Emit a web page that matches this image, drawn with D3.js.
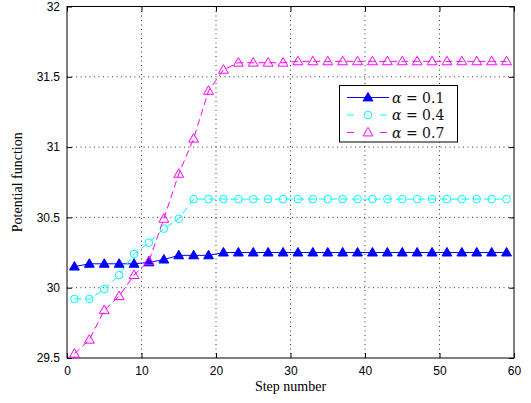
<!DOCTYPE html>
<html>
<head>
<meta charset="utf-8">
<script src="https://cdn.jsdelivr.net/npm/d3@7"></script>
<style>
  body { margin: 0; background: #fff; }
  svg { display: block; }
</style>
</head>
<body>
<svg id="chart" width="531" height="403"></svg>
<script>
// step numbers (odd steps only)
var steps = [1,3,5,7,9,11,13,15,17,19,21,23,25,27,29,31,33,35,37,39,41,43,45,47,49,51,53,55,57,59];

var alpha01 = [30.15,30.17,30.17,30.17,30.17,30.18,30.20,30.23,30.23,30.23,
  30.25,30.25,30.25,30.25,30.25,30.25,30.25,30.25,30.25,30.25,
  30.25,30.25,30.25,30.25,30.25,30.25,30.25,30.25,30.25,30.25];
var alpha04 = [29.92,29.92,29.99,30.09,30.24,30.32,30.42,30.49,30.63,30.63,
  30.63,30.63,30.63,30.63,30.63,30.63,30.63,30.63,30.63,30.63,
  30.63,30.63,30.63,30.63,30.63,30.63,30.63,30.63,30.63,30.63];
var alpha07 = [29.53,29.63,29.84,29.94,30.09,30.19,30.49,30.81,31.06,31.40,
  31.55,31.60,31.60,31.60,31.60,31.61,31.61,31.61,31.61,31.61,
  31.61,31.61,31.61,31.61,31.61,31.61,31.61,31.61,31.61,31.61];

var xTicks = [0,10,20,30,40,50,60];
var yTicks = [29.5,30,30.5,31,31.5,32];
var seriesNames = ["0.1","0.4","0.7"];

var svg = d3.select("#chart");
// plot box (don't call it "top", that's window.top)
var pL = 67, pR = 514, pT = 6.5, pB = 358;

var x = d3.scaleLinear().domain([0,60]).range([pL,pR]);
var y = d3.scaleLinear().domain([29.5,32]).range([pB,pT]);

// grid
var grid = svg.append("g");
grid.selectAll("line.gx").data(xTicks.slice(1,-1)).enter().append("line")
  .attr("x1", d => x(d)).attr("x2", d => x(d))
  .attr("y1", pT).attr("y2", pB)
  .attr("stroke","#000").attr("stroke-width",0.8).attr("stroke-dasharray","1,3.5");
grid.selectAll("line.gy").data(yTicks.slice(1,-1)).enter().append("line")
  .attr("y1", d => y(d)).attr("y2", d => y(d))
  .attr("x1", pL).attr("x2", pR)
  .attr("stroke","#000").attr("stroke-width",0.8).attr("stroke-dasharray","1,3.5");

// axes (ticks point inward like matlab)
var fontTicks = "'Liberation Sans', Arial, sans-serif";
var xAxis = d3.axisBottom(x).tickValues(xTicks).tickSize(-5).tickPadding(8).tickFormat(d3.format("d"));
var xAxisTop = d3.axisTop(x).tickValues(xTicks).tickSize(-5).tickFormat("");
var yAxis = d3.axisLeft(y).tickValues(yTicks).tickSize(-5).tickPadding(7).tickFormat(d => String(d));
var yAxisRight = d3.axisRight(y).tickValues(yTicks).tickSize(-5).tickFormat("");

function styleAxis(g){
  g.select(".domain").remove();
  g.selectAll("line").attr("stroke","#000");
  g.selectAll("text").attr("fill","#000").style("font-family",fontTicks).style("font-size","12px");
}
svg.append("g").attr("transform","translate(0,"+pB+")").call(xAxis).call(styleAxis);
svg.append("g").attr("transform","translate(0,"+pT+")").call(xAxisTop).call(styleAxis);
svg.append("g").attr("transform","translate("+pL+",0)").call(yAxis).call(styleAxis);
svg.append("g").attr("transform","translate("+pR+",0)").call(yAxisRight).call(styleAxis);

svg.append("rect").attr("x",pL).attr("y",pT).attr("width",pR-pL).attr("height",pB-pT)
  .attr("fill","none").attr("stroke","#000").attr("stroke-width",1);

// series
var tri = d3.symbol().type(d3.symbolTriangle).size(42);
var series = [
  {vals: alpha01, color:"#0000ff", dash:null, marker:"tri", fill:true},
  {vals: alpha04, color:"#00ffff", dash:"7,4", marker:"circle", fill:false},
  {vals: alpha07, color:"#ff00ff", dash:"7,4", marker:"tri", fill:false}
];
var line = d3.line().x(d => x(d[0])).y(d => y(d[1]));

function drawMarker(g, s, cx, cy){
  if(s.marker === "circle"){
    g.append("circle").attr("cx",cx).attr("cy",cy).attr("r",3.8)
      .attr("fill","none").attr("stroke",s.color).attr("stroke-width",1);
  } else {
    g.append("path").attr("d",tri).attr("transform","translate("+cx+","+(cy+0.6)+")")
      .attr("fill", s.fill ? s.color : "none").attr("stroke",s.color).attr("stroke-width",1);
  }
}

series.forEach(s => {
  var pts = steps.map((st,i) => [st, s.vals[i]]);
  var g = svg.append("g");
  g.append("path").attr("d", line(pts)).attr("fill","none")
    .attr("stroke", s.color).attr("stroke-width",1)
    .attr("stroke-dasharray", s.dash);
  pts.forEach(p => drawMarker(g, s, x(p[0]), y(p[1])));
});

// legend
var lg = svg.append("g");
lg.append("rect").attr("x",339.5).attr("y",85.5).attr("width",118).attr("height",56.5)
  .attr("fill","#fff").attr("stroke","#000").attr("stroke-width",1);
series.forEach((s,i) => {
  var ly = 97.5 + i*17.5;
  lg.append("line").attr("x1",347).attr("x2",389).attr("y1",ly).attr("y2",ly)
    .attr("stroke",s.color).attr("stroke-width",1.2).attr("stroke-dasharray",s.dash);
  if(s.dash){
    lg.append("rect").attr("x",357).attr("y",ly-6).attr("width",22).attr("height",12).attr("fill","#fff");
  }
  drawMarker(lg, s, 368, ly);
  var t = lg.append("text").attr("x",392).attr("y",ly+5)
    .style("font-family","'DejaVu Serif','Liberation Serif',serif").style("font-size","14px").attr("fill","#111");
  t.append("tspan").style("font-style","italic").text("α");
  t.append("tspan").text(" = " + seriesNames[i]);
});

// axis labels
var fontLabel = "'Liberation Serif','Times New Roman',serif";
svg.append("text").attr("x",(pL+pR)/2).attr("y",391).attr("text-anchor","middle")
  .style("font-family",fontLabel).style("font-size","14px").text("Step number");
svg.append("text").attr("transform","translate(22,"+((pT+pB)/2)+") rotate(-90)")
  .attr("text-anchor","middle").style("font-family",fontLabel).style("font-size","14px")
  .text("Potential function");
</script>
</body>
</html>
